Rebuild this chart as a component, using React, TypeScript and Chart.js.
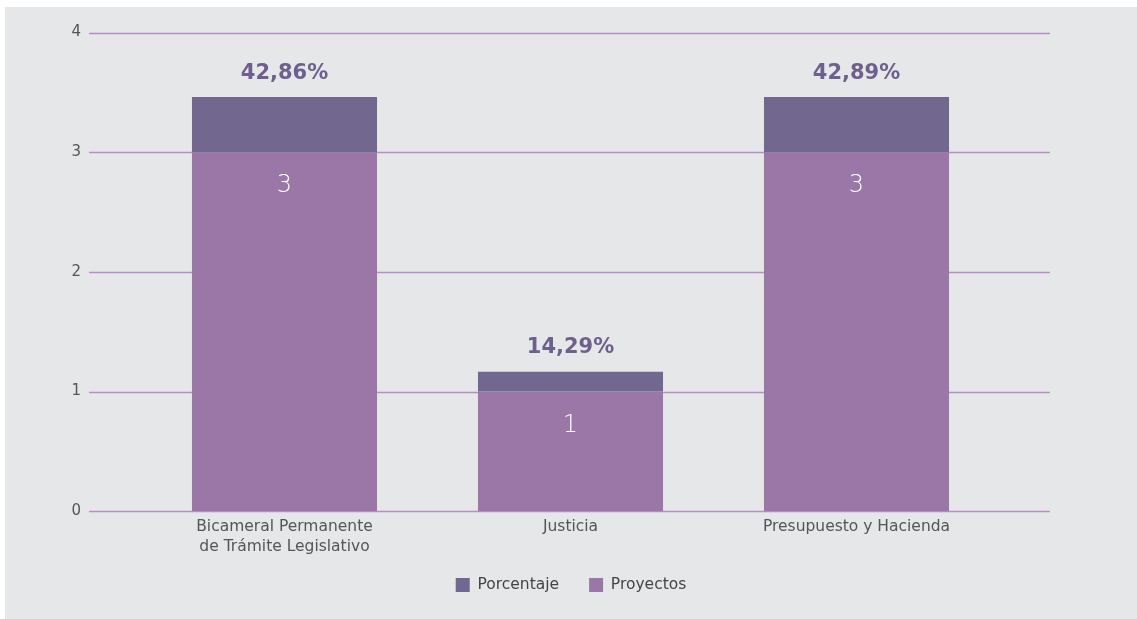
import React, { useEffect, useRef } from "react";
import { Chart, registerables } from "chart.js";

Chart.register(...registerables);

const categories: (string | string[])[] = [
  ["Bicameral Permanente", "de Trámite Legislativo"],
  "Justicia",
  "Presupuesto y Hacienda",
];
const proyectos = [3, 1, 3];
const porcentaje = [0.46, 0.165, 0.46];
const porcentajeLabels = ["42,86%", "14,29%", "42,89%"];
const yTicks = [0, 1, 2, 3, 4];

const FONT = "'DejaVu Sans', sans-serif";

const overlay = {
  id: "overlay",
  afterLayout(chart: any) {
    const lg = chart.legend;
    if (lg) {
      const shift = 8.5;
      lg.top -= shift;
      lg.bottom -= shift;
    }
  },
  beforeDatasetsDraw(chart: any) {
    const { ctx } = chart;
    const y = chart.scales.y;
    ctx.save();
    ctx.strokeStyle = "#b58ec3";
    ctx.lineWidth = 1.3;
    yTicks.forEach((t) => {
      const py = Math.round(y.getPixelForValue(t)) + 0.5;
      ctx.beginPath();
      ctx.moveTo(84, py);
      ctx.lineTo(1045, py);
      ctx.stroke();
    });
    ctx.restore();
  },
  afterDatasetsDraw(chart: any) {
    const { ctx } = chart;
    const base = chart.getDatasetMeta(0).data;
    const top = chart.getDatasetMeta(1).data;
    ctx.save();
    ctx.textAlign = "center";
    ctx.textBaseline = "middle";
    top.forEach((bar: any, i: number) => {
      ctx.fillStyle = "#6d5f8e";
      ctx.font = `bold 21px ${FONT}`;
      ctx.fillText(porcentajeLabels[i], bar.x, bar.y - 24);
    });
    base.forEach((bar: any, i: number) => {
      ctx.fillStyle = "#ffffff";
      ctx.font = `200 24px ${FONT}`;
      ctx.fillText(String(proyectos[i]), bar.x, bar.y + 34);
    });
    ctx.restore();
  },
};

export default function App() {
  const ref = useRef<HTMLCanvasElement>(null);
  useEffect(() => {
    if (!ref.current) return;
    const chart = new Chart(ref.current, {
      type: "bar",
      data: {
        labels: categories,
        datasets: [
          {
            label: "Proyectos",
            data: proyectos,
            backgroundColor: "#9b77a8",
            borderWidth: 0,
            stack: "s",
          },
          {
            label: "Porcentaje",
            data: porcentaje,
            backgroundColor: "#72678e",
            borderWidth: 0,
            stack: "s",
          },
        ],
      },
      options: {
        animation: false,
        responsive: false,
        maintainAspectRatio: false,
        layout: { padding: { left: 0, top: 25.5, bottom: 7.8, right: 0 } },
        datasets: { bar: { categoryPercentage: 1, barPercentage: 0.647 } },
        plugins: {
          legend: {
            position: "bottom",
            labels: {
              boxWidth: 14,
              boxHeight: 14,
              padding: 30,
              color: "#444444",
              font: { family: FONT, size: 15.5 },
              sort: (a: any, b: any) => b.datasetIndex - a.datasetIndex,
            },
          },
          tooltip: { enabled: false },
        },
        scales: {
          x: {
            stacked: true,
            grid: { display: false, drawTicks: false },
            border: { display: false },
            ticks: {
              color: "#555555",
              padding: 6,
              font: { family: FONT, size: 15.5, lineHeight: 1.3 },
              maxRotation: 0,
              autoSkip: false,
            },
            afterFit: (s: any) => {
              s.height = 44.5;
            },
          },
          y: {
            stacked: true,
            min: 0,
            max: 4,
            grid: { display: false, drawTicks: false },
            border: { display: false },
            ticks: {
              stepSize: 1,
              padding: 60.5,
              color: "#555555",
              font: { family: FONT, size: 15 },
            },
            afterFit: (s: any) => {
              s.width = 136.5;
              s.paddingTop = 8;
              s.paddingBottom = 8;
            },
          },
          yR: {
            position: "right",
            display: true,
            grid: { display: false, drawTicks: false },
            border: { display: false },
            ticks: { display: false },
            afterFit: (s: any) => {
              s.width = 137.5;
              s.paddingTop = 0;
              s.paddingBottom = 0;
            },
          },
        },
      },
      plugins: [overlay],
    });
    return () => chart.destroy();
  }, []);
  return (
    <div
      style={{
        position: "fixed",
        left: 5,
        top: 7,
        width: 1132,
        height: 612,
        background: "#e6e7e8",
      }}
    >
      <canvas ref={ref} width={1132} height={612} style={{ display: "block" }} />
    </div>
  );
}
